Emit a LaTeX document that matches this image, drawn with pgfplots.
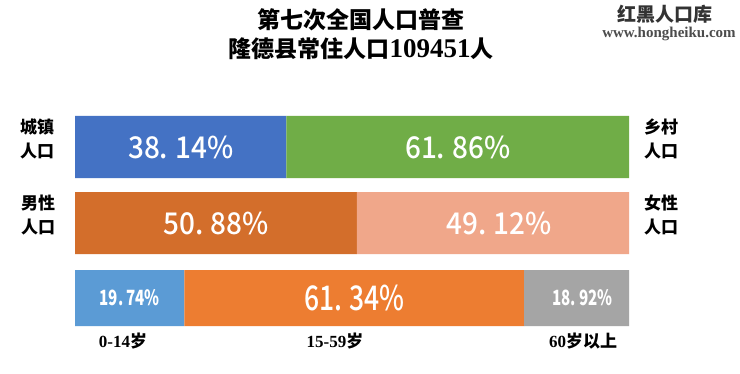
\documentclass[border=0pt]{standalone}
\usepackage{pgfplots}
\pgfplotsset{compat=1.18}
\usepackage{fontspec}
\setmainfont{Liberation Serif}
\newfontfamily\cjk{Noto Sans CJK SC}
\newfontfamily\cjkm{Noto Sans CJK SC Medium}
\definecolor{cUrban}{HTML}{4472C4}
\definecolor{cRural}{HTML}{70AD47}
\definecolor{cMale}{HTML}{D36E2B}
\definecolor{cFemale}{HTML}{F0A78A}
\definecolor{cYoung}{HTML}{5B9BD5}
\definecolor{cMid}{HTML}{ED7D31}
\definecolor{cOld}{HTML}{A5A5A5}
\begin{document}
\begin{tikzpicture}
\useasboundingbox (0,0) rectangle (740bp,374bp);
\fill[white] (0,0) rectangle (740bp,374bp);
\begin{axis}[
  at={(75bp,0bp)}, anchor=south west,
  width=554bp, height=374bp, scale only axis,
  xmin=0, xmax=100, ymin=0, ymax=374, y dir=reverse,
  hide axis, clip=false,
]
% row 1: urban / rural
\addplot[fill=cUrban, draw=none] coordinates {(0,116) (38.14,116) (38.14,178) (0,178) (0,116)};
\addplot[fill=cRural, draw=none] coordinates {(38.14,116) (100,116) (100,178) (38.14,178) (38.14,116)};
% row 2: male / female
\addplot[fill=cMale, draw=none] coordinates {(0,192) (50.88,192) (50.88,254) (0,254) (0,192)};
\addplot[fill=cFemale, draw=none] coordinates {(50.88,192) (100,192) (100,254) (50.88,254) (50.88,192)};
% row 3: age groups
\addplot[fill=cYoung, draw=none] coordinates {(0,270) (19.74,270) (19.74,326) (0,326) (0,270)};
\addplot[fill=cMid, draw=none] coordinates {(19.74,270) (81.08,270) (81.08,326) (19.74,326) (19.74,270)};
\addplot[fill=cOld, draw=none] coordinates {(81.08,270) (100,270) (100,326) (81.08,326) (81.08,270)};
% labels
\addplot[only marks, mark=*, mark size=0pt, mark options={draw=none,fill=none},
  point meta=explicit symbolic, nodes near coords,
  nodes near coords style={anchor=center, text=white, font=\cjkm\fontsize{30bp}{30bp}\selectfont, xscale=0.93}]
  coordinates {(19.07,147) [38.\hspace{0.25em}14\%] (69.07,147) [61.\hspace{0.25em}86\%]
               (25.44,223) [50.\hspace{0.25em}88\%] (76.5,223) [49.\hspace{0.25em}12\%]};
\addplot[only marks, mark=*, mark size=0pt, mark options={draw=none,fill=none},
  point meta=explicit symbolic, nodes near coords,
  nodes near coords style={anchor=center, text=white, font=\cjk\bfseries\fontsize{21bp}{21bp}\selectfont, xscale=0.72}]
  coordinates {(9.87,298) [19.\hspace{0.2em}74\%] (91.6,298) [18.\hspace{0.2em}92\%]};
\addplot[only marks, mark=*, mark size=0pt, mark options={draw=none,fill=none},
  point meta=explicit symbolic, nodes near coords,
  nodes near coords style={anchor=center, text=white, font=\cjkm\fontsize{34bp}{34bp}\selectfont, xscale=0.78}]
  coordinates {(50.4,298) [61.\hspace{0.25em}34\%]};
\end{axis}
% titles
\node[font=\cjk\bfseries\fontsize{23bp}{23bp}\selectfont] at (361bp,374bp-20bp) {第七次全国人口普查};
\node[inner sep=0pt] at (361bp,374bp-49bp) {{\cjk\bfseries\fontsize{23bp}{23bp}\selectfont 隆德县常住人口}{\bfseries\fontsize{27bp}{27bp}\selectfont 109451}{\cjk\bfseries\fontsize{23bp}{23bp}\selectfont 人}};
% watermark
\node[text=black!80, font=\cjk\bfseries\fontsize{19bp}{19bp}\selectfont] at (665bp,374bp-14bp) {红黑人口库};
\node[text=black!70, font=\bfseries\fontsize{15bp}{15bp}\selectfont] at (669bp,374bp-34bp) {www.hongheiku.com};
% side labels
\node[align=center, font=\cjk\bfseries\fontsize{17bp}{24bp}\selectfont] at (37bp,374bp-139bp) {城镇\\人口};
\node[align=center, font=\cjk\bfseries\fontsize{17bp}{24bp}\selectfont] at (38bp,374bp-215bp) {男性\\人口};
\node[align=center, font=\cjk\bfseries\fontsize{17bp}{24bp}\selectfont] at (661bp,374bp-139bp) {乡村\\人口};
\node[align=center, font=\cjk\bfseries\fontsize{17bp}{24bp}\selectfont] at (661bp,374bp-215bp) {女性\\人口};
% age labels
\node[font=\bfseries\fontsize{17bp}{17bp}\selectfont] at (123bp,374bp-341bp) {0-14{\cjk 岁}};
\node[font=\bfseries\fontsize{17bp}{17bp}\selectfont] at (335bp,374bp-341bp) {15-59{\cjk 岁}};
\node[font=\bfseries\fontsize{17bp}{17bp}\selectfont] at (583bp,374bp-341bp) {60{\cjk 岁以上}};
\end{tikzpicture}
\end{document}
